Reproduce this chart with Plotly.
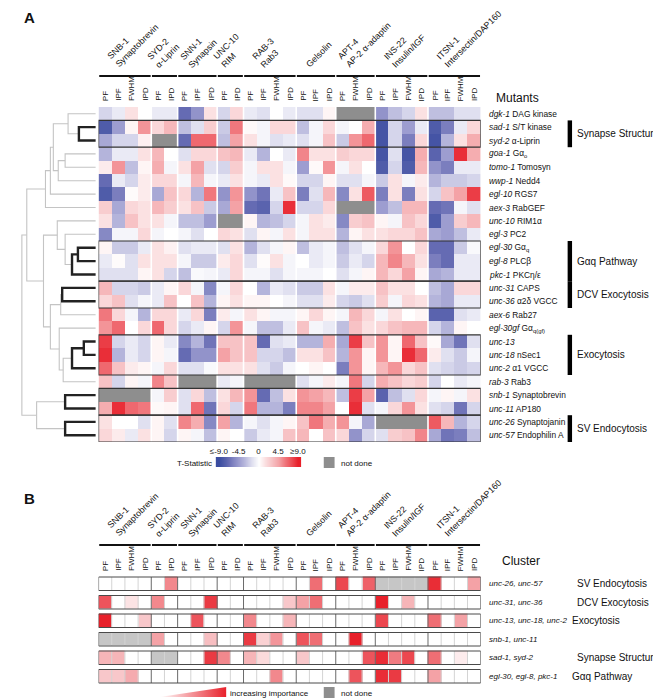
import math
import plotly.graph_objects as go

W, H = 661, 698
FONT = "Liberation Sans, Arial, Helvetica, sans-serif"
N = None

# ---------------- column structure (shared by panels A and B) ----------------
group_names = ["SNB-1<br>Synaptobrevin", "SYD-2<br>α-Liprin", "SNN-1<br>Synapsin",
               "UNC-10<br>RIM", "RAB-3<br>Rab3", "Gelsolin", "APT-4<br>AP-2 α-adaptin",
               "INS-22<br>Insulin/IGF", "ITSN-1<br>Intersectin/DAP160"]
group_cols = [["PF", "IPF", "FWHM", "IPD"], ["PF", "IPD"], ["PF", "IPF", "IPD"], ["PF", "IPD"],
              ["PF", "IPF", "FWHM", "IPD"], ["PF", "IPF", "IPD"], ["PF", "FWHM", "IPD"],
              ["PF", "IPF", "FWHM", "IPD"], ["PF", "IPF", "FWHM", "IPD"]]
col_labels = [c for g in group_cols for c in g]

# ---------------- panel A: mutants x markers, T-statistic ----------------
mutant_genes = ["dgk-1", "sad-1", "syd-2", "goa-1", "tomo-1", "wwp-1", "egl-10", "aex-3",
                "unc-10", "egl-3", "egl-30", "egl-8", "pkc-1", "unc-31", "unc-36", "aex-6",
                "egl-30gf", "unc-13", "unc-18", "unc-2", "rab-3", "snb-1", "unc-11",
                "unc-26", "unc-57"]
mutant_proteins = ["DAG kinase", "S/T kinase", "α-Liprin", "Gα<sub>o</sub>", "Tomosyn", "Nedd4",
                   "RGS7", "RabGEF", "RIM1α", "PC2", "Gα<sub>q</sub>", "PLCβ", "PKCη/ε", "CAPS",
                   "α2δ VGCC", "Rab27", "Gα<sub>q(gf)</sub>", "", "nSec1", "α1 VGCC", "Rab3",
                   "Synaptobrevin", "AP180", "Synaptojanin", "Endophilin A"]

dgk_1 = [-2, -1, 1.5, 0, -1, -1, -7, -5, 1.5, -2, 2, -1, -1.5, 0, -1, -1.5, -1.5, 0.5, N, N, N, -5, -3, -2, 1.5, -3, -3, -1.5, -1.5]
sad_1 = [-8, -4.5, 0.5, 5, 2, 3.5, -3, -1.5, 2.5, -2.5, 6, 0.3, -0.5, 2, 2, -3, -0.5, 2, -0.5, 0, 4, -8.5, -2, -4.5, -1, -8, -6, -1, 2]
syd_2 = [-4, -2, -2, 0.8, N, N, -7, 6.5, 6.5, -3, 4.5, 1.5, -0.5, -1.5, -1, -1.5, -0.5, 3, -2.5, 5, 6.5, -8.5, -2, -6, 2, -8.5, -3.5, 1.5, 4]
goa_1 = [-3.5, -1, -1, 1.5, 3.5, 0, -1.5, 2, 2, 3, 3.5, -1, -3.5, 0, -1, 5.5, 1.5, 1.5, 2.5, 2, 2, -8.5, -1.5, -8.5, 4, -7.5, -4.5, 8.5, 4]
tomo_1 = [1, 5, -3, 0.5, 4, -0.5, 1.5, 4.5, -1.5, -2, 2.5, -0.5, 1.5, 1.5, -0.5, -4.5, 0.3, 5, -0.5, 1.5, 0, -8, -2, -8, 3.5, -5, -6, -1, -1]
wwp_1 = [-7, -1, -2, 1, 2, 2, -0.5, 3.5, -0.5, -1, 1.5, -0.5, -1, 1.5, 0.3, -2, -2, 0.5, -1.5, -1.5, -0.5, -2.5, 1.5, -0.5, 1, -3.5, -2.5, -2.5, -2]
egl_10 = [-8, -6, 0.2, 1, -4, 3, 2, -3.5, 6, -5, 5, -5, -6.5, -1, 3, -6, -1.5, 3.5, -5.5, 1.5, 7, -6, 1.5, -6, 1.5, -2, 3, 4.5, 8]
aex_3 = [2.5, -4, 2, 1.5, 3.5, 2.5, 1.5, 3, -2.5, -4, 4.5, -7, -7.5, -2, 8.5, -2, -2, 2, N, N, N, -4.5, -3, 3.5, 3.5, -7, -6.5, -0.5, -1.5]
unc_10 = [1.5, -3.5, 3, 1.5, 1.5, -0.5, -3, -3, -4.5, N, N, 0.5, -3.5, -3, -2, -0.5, 1.5, 1, -5.5, 2.5, 3, 0.5, -0.5, 3, 2, -8, -4.5, 2.5, 3.5]
egl_3 = [-5.5, -0.5, -0.5, 2, -0.5, 0, -0.5, -1.5, 0, 2, 1.5, -1.5, 0.5, -0.5, 1.5, -0.5, 1.5, 1.5, -3.5, 0.5, 1.5, 1.5, 2, 2, 3, -4, -4.5, -3, -1]
egl_30 = [0.5, -2.5, -2.5, -1, 1.5, 0.7, -1.5, -1, -1, -1.5, 1.5, -3.5, -1.5, -0.5, 0.5, -3, -1, -0.5, -3, -1.5, -0.5, 2, 5, 0, 2, -7, -7, -2.5, -0.3]
egl_8 = [-1, 0.2, -1.5, 1.5, 1.5, 1.5, -0.5, -2.5, -2.5, 1, 2, -1.5, 0.2, 1.5, -0.5, 0, -1, -0.5, -2.5, -1, -2, 3.5, 5.5, 3.5, 1.5, -6, -7, -1, -1]
pkc_1 = [-1.5, -1.5, -1.5, 0.5, 1.5, -2, -3, -0.3, -0.5, -1, 2, -0.5, -0.5, -1.5, -0.5, -0.5, -0.5, 0, -1.5, -0.5, 0.5, 3.5, 2, 4.5, 0.5, -4, -3.5, -1, -1]
unc_31 = [3.5, -2, -2, -2.5, -1, 0.5, 2, -0.5, -5.5, -0.5, 2, 0, -3.5, -1, -1.5, -2.5, -2.5, 1.5, -0.5, 1, 1, 3, 1.5, 1.5, 0, -3, -4, 2, 2]
unc_36 = [2, 3, -1.5, -0.5, -1, 3, 0, 3, -3.5, 0.5, 1.5, 0.5, 0.5, 0, -0.5, -1.5, -1.5, 1, -2, -2.5, -1.5, 2.5, -0.5, 2, 1.5, -3.5, -4, -1, -1]
aex_6 = [6, 2, -0.5, -3.5, 2, 2, -1, 2, -6, 1, -0.5, 1.5, 0.5, -0.5, -0.5, 0.5, 2, 0.5, -0.5, 3.5, 2, -0.5, 1.5, 0, 0.5, -7.5, -7.5, -1.5, -1]
egl_30gf = [5, 6.5, 0, 2, 6.5, 2, -2, -1, 0.5, -2, 5, -0.5, -3, -3, -1, 3, -0.5, -1, -3, 3, 1.5, 2, 3, 3.5, 3.5, -2, -3.5, 0.5, 0]
unc_13 = [8, -2, -1, -2, 0.5, -1, -5.5, -3.5, -6.5, 3, 3, 3, -7, -1.5, -1, -3.5, -3.5, 4, -4, 8, 3, 5, 0.5, 6.5, 3, 0.3, -4, -6.5, -1.5]
unc_18 = [8.5, -3.5, -1, -2, 0.5, -0.5, -7, -5, -5, 4.5, 3, 3, -2, -2, -3, 1.5, 1.5, 3, -3.5, 5, 0.5, 5, 0.5, 8.5, 6.5, 1, -1.5, -2.5, -0.5]
unc_2 = [6.5, 3, 1, 0.5, -0.5, 2, -1.5, -1.5, -0.3, 1.5, 1.5, 1.5, -1.5, -2.5, -0.5, 0, 0.5, 0, -6, 5, 0.5, 3.5, 5, 2, 3, -1.5, -2, -2.5, -2]
rab_3 = [3, -2, 0.5, -0.5, 5.5, 3, N, N, N, -1, -0.5, N, N, N, N, -1.5, -0.5, 1, -0.5, 6, -2, 4, 3, 2, 2.5, -2, 0, -1, -0.5]
snb_1 = [N, N, N, N, -0.5, 2.5, -1.5, 2, -3, 1.5, 3.5, 5, -7, -3, 1.5, 5, 4.5, 3.5, -3, 8, 4.5, -7.5, -3, -1.5, 2, -0.5, 0.5, -0.5, 1.5]
unc_11 = [4, 8.5, 6.5, 6, 0.3, 0.5, -1.5, 6.5, -6.5, 2, -2, 6, -3.5, -3.5, -6, 5.5, 5.5, 4.5, 0, 8.5, -1.5, -0.5, 2, 5, 1.5, -1.5, -2, -6.5, -2]
unc_26 = [1.5, 0, 0, -1.5, 0.5, -1.5, 5.5, 4, -5.5, 4.5, -3.5, -0.5, -1.5, -0.5, 0.5, 3, 6, 4, 5, -0.5, -4, N, N, N, N, 7, 3.5, -3.5, -2]
unc_57 = [2, 1, -1, 1.5, 0.5, -2, 0.5, -0.5, -3, 0.5, 0, -2.5, -1, -0.5, 3, 3.5, 0, 3, 2, -5, -2, -1.5, 2.5, 3, 5.5, -4, -6.5, -6, -3]

# clusters outlined in A (first row, last row) and the category bars at right
a_boxes = [(1, 2), (10, 12), (13, 14), (17, 19), (21, 22), (23, 24)]
a_categories = [("Synapse Structure", 1, 2), ("Gαq Pathway", 10, 12), ("DCV Exocytosis", 13, 14),
                ("Exocytosis", 17, 19), ("SV Endocytosis", 23, 24)]

# dendrogram merges: (child a, child b, merge height, highlighted); leaves 0..24, new nodes 25..
leaf_height = 3
merges = [
    (1, 2, 20, True),      # 25 sad-1 / syd-2
    (0, 25, 31, False),    # 26
    (3, 4, 34, False),     # 27 goa-1 / tomo-1
    (27, 5, 41, False),    # 28 + wwp-1
    (26, 28, 46, False),   # 29
    (29, 6, 49, False),    # 30 + egl-10
    (30, 7, 54, False),    # 31 + aex-3
    (10, 11, 21, True),    # 32 egl-30 / egl-8
    (32, 12, 27, True),    # 33 + pkc-1
    (9, 33, 34, False),    # 34 + egl-3
    (8, 34, 42, False),    # 35 + unc-10
    (13, 14, 37, True),    # 36 unc-31 / unc-36
    (36, 15, 38.5, False), # 37 + aex-6
    (17, 18, 15, True),    # 38 unc-13 / unc-18
    (38, 19, 27, True),    # 39 + unc-2
    (39, 20, 36, False),   # 40 + rab-3
    (16, 40, 40, False),   # 41 + egl-30gf
    (37, 41, 49, False),   # 42
    (35, 42, 56, False),   # 43
    (31, 43, 73, False),   # 44
    (21, 22, 34, True),    # 45 snb-1 / unc-11
    (23, 24, 34, True),    # 46 unc-26 / unc-57
    (45, 46, 63, False),   # 47
    (44, 47, 78, False),   # 48 root
]

# ---------------- panel B: clusters x markers, importance ----------------
cluster_members = ["unc-26, unc-57", "unc-31, unc-36", "unc-13, unc-18, unc-2", "snb-1, unc-11",
                   "sad-1, syd-2", "egl-30, egl-8, pkc-1"]
cluster_names = ["SV Endocytosis", "DCV Exocytosis", "Exocytosis", "", "Synapse Structure", "Gαq Pathway"]
imp_sv_endo = [0, 0, 0, 0, 0, 0.6, 0, 0, 0, 0, 0, 0, 0, 0, 0, 0, 0.7, 0, 0.85, 0, 0.75, N, N, N, N, 0.95, 0, 0, 0.5]
imp_dcv = [0.8, 0, 0.15, 0, 0.6, 0, 0, 0, 0.9, 0, 0, 0, 0, 0, 0.3, 0.5, 0.7, 0, 0, 0, 0, 1.0, 0, 0.4, 0, 0, 0, 0, 0]
imp_exo = [1.0, 0, 0, 0.3, 0, 0, 0, 0.8, 0, 0, 0, 0.6, 0, 0, 0.4, 0, 0, 0, 0, 0, 0, 0.85, 0, 0, 0, 0.7, 0, 0.5, 0]
imp_snb = [N, N, N, N, 0.5, 0, 0, 0, 0.35, 0, 0, 0.9, 0.25, 0.55, 0, 0.8, 0.7, 0, 0, 1.0, 0, 0, 0, 0, 0, 0, 0, 0, 0]
imp_syn = [0.4, 0.4, 0, 0, N, N, 0, 0, 0.9, 0.6, 0, 0.4, 0.2, 0, 0, 0.3, 0, 0, 0, 0, 0.8, 0.95, 0.65, 0.85, 0, 0.7, 0, 0.1, 0]
imp_gaq = [0.3, 0.3, 0.45, 0, 0, 0, 0, 0, 0, 0, 0, 0, 0, 0.6, 0, 0, 0, 0, 0, 0.8, 0, 0.95, 0.9, 0, 0, 0.5, 0, 0, 0]

tstat_legend_vals = [-9, -7.5, -6, -4.5, -3, -1.5, 0, 1.5, 3, 4.5, 6, 7.5, 9]
tstat_legend_ticks = [-9, -4.5, 0, 4.5, 9]
tstat_legend_text = ["≤-9.0", "-4.5", "0", "4.5", "≥9.0"]

# ---------------- geometry (pixels) ----------------
HX0, HX1 = 86, 474.6
AY0, AY1 = 99, 434
BY0, BY1 = 566.5, 677.5
DX1 = 86
LAB_X = 480.5
CAT_X = 571


def px(x):
    return x / W


def py(y):
    return 1 - y / H


tscale = [[0.0, "#3a4ca0"], [0.125, "#6a6fb5"], [0.25, "#9d9dd0"], [0.375, "#d0d0e8"],
          [0.5, "#ffffff"], [0.625, "#f9d2d4"], [0.75, "#f4a2a6"], [0.875, "#ee6168"], [1.0, "#e8202a"]]
iscale = [[0.0, "#ffffff"], [0.5, "#f4a2a6"], [1.0, "#e8202a"]]

zA = [dgk_1, sad_1, syd_2, goa_1, tomo_1, wwp_1, egl_10, aex_3, unc_10, egl_3, egl_30, egl_8,
      pkc_1, unc_31, unc_36, aex_6, egl_30gf, unc_13, unc_18, unc_2, rab_3, snb_1, unc_11,
      unc_26, unc_57]
zB = [imp_sv_endo, imp_dcv, imp_exo, imp_snb, imp_syn, imp_gaq]
ncol = len(col_labels)
xs = list(range(ncol))

fig = go.Figure()

# not-done masks + data heatmaps
fig.add_trace(go.Heatmap(z=[[1 if v is None else None for v in r] for r in zA], x=xs,
                         y=list(range(len(zA))), colorscale=[[0, "#8e8e8e"], [1, "#8e8e8e"]],
                         showscale=False, hoverinfo="skip", xaxis="x", yaxis="y"))
fig.add_trace(go.Heatmap(z=zA, x=xs, y=list(range(len(zA))), zmin=-9, zmax=9, colorscale=tscale,
                         showscale=False, hoverinfo="skip", xaxis="x", yaxis="y"))
fig.add_trace(go.Heatmap(z=[[1 if v is None else None for v in r] for r in zB], x=xs,
                         y=list(range(len(zB))), colorscale=[[0, "#c6c6c6"], [1, "#c6c6c6"]],
                         showscale=False, hoverinfo="skip", ygap=5, xaxis="x2", yaxis="y2"))
fig.add_trace(go.Heatmap(z=zB, x=xs, y=list(range(len(zB))), zmin=0, zmax=1, colorscale=iscale,
                         showscale=False, hoverinfo="skip", ygap=5, xaxis="x2", yaxis="y2"))

# dendrogram
pos = {i: (float(i), leaf_height) for i in range(len(mutant_genes))}
segs = {True: ([], []), False: ([], [])}
for k, (a, b, h, hi) in enumerate(merges):
    ya, ha = pos[a]
    yb, hb = pos[b]
    X, Y = segs[hi]
    X += [ha, h, h, hb, None]
    Y += [ya, ya, yb, yb, None]
    pos[len(mutant_genes) + k] = ((ya + yb) / 2, h)
for hi in (False, True):
    X, Y = segs[hi]
    fig.add_trace(go.Scatter(x=X, y=Y, mode="lines", xaxis="x3", yaxis="y",
                             line=dict(color="#222222" if hi else "#c4c4c4", width=2.4 if hi else 1.1),
                             hoverinfo="skip", showlegend=False))

# T-statistic legend bar
fig.add_trace(go.Heatmap(z=[tstat_legend_vals], x=tstat_legend_vals, y=[0], zmin=-9, zmax=9,
                         colorscale=tscale, zsmooth="best", showscale=False, hoverinfo="skip",
                         xaxis="x4", yaxis="y4"))

# importance legend wedge
fig.add_trace(go.Scatter(x=[0, 1, 1, 0], y=[0, 0, 1, 0], mode="lines", fill="toself",
                         fillgradient=dict(type="horizontal", colorscale=[[0, "#ffffff"], [1, "#e8202a"]]),
                         line=dict(width=0), xaxis="x5", yaxis="y5", hoverinfo="skip", showlegend=False))

hidden = dict(visible=False, showgrid=False, zeroline=False, fixedrange=True)
fig.update_layout(
    width=W, height=H, margin=dict(l=0, r=0, t=0, b=0),
    paper_bgcolor="white", plot_bgcolor="rgba(0,0,0,0)", showlegend=False,
    font=dict(family=FONT, size=9, color="#111111"),
    xaxis=dict(domain=[px(HX0), px(HX1)], range=[-0.5, ncol - 0.5], anchor="y", **hidden),
    yaxis=dict(domain=[py(AY1), py(AY0)], range=[len(zA) - 0.5, -0.5], anchor="x", **hidden),
    xaxis2=dict(domain=[px(HX0), px(HX1)], range=[-0.5, ncol - 0.5], anchor="y2", **hidden),
    yaxis2=dict(domain=[py(BY1), py(BY0)], range=[len(zB) - 0.5, -0.5], anchor="x2", **hidden),
    xaxis3=dict(domain=[0, px(DX1)], range=[DX1, 0], anchor="y", **hidden),
    xaxis4=dict(domain=[px(205), px(292)], range=[-9.75, 9.75], anchor="y4", side="top",
                tickvals=tstat_legend_ticks, ticktext=tstat_legend_text, ticks="",
                showticklabels=True, showgrid=False, zeroline=False, showline=False,
                tickfont=dict(size=8, family=FONT, color="#111"), ticklabelstandoff=0, fixedrange=True),
    yaxis4=dict(domain=[py(459), py(449)], range=[-0.5, 0.5], anchor="x4", **hidden),
    xaxis5=dict(domain=[px(148), px(216)], range=[0, 1], anchor="y5", **hidden),
    yaxis5=dict(domain=[py(689), py(679)], range=[0, 1], anchor="x5", **hidden),
)

shapes = []
ann = []

# group boundaries
bounds = []
acc = 0
for g in group_cols:
    bounds.append((acc, acc + len(g) - 1))
    acc += len(g)

for (s, e) in bounds[:-1]:
    shapes.append(dict(type="line", xref="x", yref="y", x0=e + 0.5, x1=e + 0.5, y0=-0.5,
                       y1=len(zA) - 0.5, line=dict(color="white", width=1.6)))

# panel B cell grid
for r in range(len(zB)):
    y0, y1 = r - 0.5 + 2.5 / 18.5, r + 0.5 - 2.5 / 18.5
    for c in range(1, ncol):
        is_group = any(c == s for (s, e) in bounds)
        shapes.append(dict(type="line", xref="x2", yref="y2", x0=c - 0.5, x1=c - 0.5, y0=y0, y1=y1,
                           line=dict(color="#6a6a6a" if is_group else "#d4d4d4", width=1)))
    shapes.append(dict(type="rect", xref="x2", yref="y2", x0=-0.5, x1=ncol - 0.5, y0=y0, y1=y1,
                       line=dict(color="#4a4a4a", width=1)))

# cluster boxes in A
for (r0, r1) in a_boxes:
    shapes.append(dict(type="rect", xref="x", yref="y", x0=-0.5, x1=ncol - 0.5, y0=r0 - 0.5,
                       y1=r1 + 0.5, line=dict(color="#333333", width=1.2)))

# header lines, header text, column labels (both panels)
for line_y, lab_y, head_y in [(68, 95, 64), (537, 565, 533)]:
    for gi, (s, e) in enumerate(bounds):
        shapes.append(dict(type="line", xref="x", yref="paper", x0=s - 0.45, x1=e + 0.45,
                           y0=py(line_y), y1=py(line_y), line=dict(color="#111", width=2)))
        cx = HX0 + 13.4 * ((s + e) / 2 + 0.5)
        nlines = group_names[gi].count("<br>") + 1
        hbox = nlines * 11.4 + 2
        ann.append(dict(x=px(cx - 5 - hbox / math.sqrt(2)), y=py(head_y), xref="paper", yref="paper",
                        text=group_names[gi], textangle=-45, showarrow=False, align="left",
                        xanchor="left", yanchor="bottom", font=dict(size=8.8)))
    for c, lab in enumerate(col_labels):
        ann.append(dict(x=c, y=py(lab_y), xref="x", yref="paper", text=lab, textangle=-90,
                        showarrow=False, xanchor="center", yanchor="bottom", font=dict(size=8)))

# row labels A
for i, (g, p) in enumerate(zip(mutant_genes, mutant_proteins)):
    txt = f"<i>{g}</i>" + (f" {p}" if p else "")
    ann.append(dict(x=px(LAB_X), y=i, xref="paper", yref="y", text=txt, showarrow=False,
                    xanchor="left", yanchor="middle", font=dict(size=8.4)))

for (name, r0, r1) in a_categories:
    shapes.append(dict(type="rect", xref="paper", yref="y", x0=px(563), x1=px(567.5),
                       y0=r0 - 0.5, y1=r1 + 0.5, fillcolor="black", line=dict(width=0)))
    ann.append(dict(x=px(CAT_X), y=(r0 + r1) / 2, xref="paper", yref="y", text=name, showarrow=False,
                    xanchor="left", yanchor="middle", font=dict(size=10)))

# row labels B
for i, (m, n) in enumerate(zip(cluster_members, cluster_names)):
    ann.append(dict(x=px(LAB_X + 1), y=i, xref="paper", yref="y2", text=f"<i>{m}</i>", showarrow=False,
                    xanchor="left", yanchor="middle", font=dict(size=8)))
    if n:
        cx_lab = CAT_X if len(m) < 18 else 565
        ann.append(dict(x=px(cx_lab), y=i, xref="paper", yref="y2", text=n, showarrow=False,
                        xanchor="left", yanchor="middle", font=dict(size=10)))

ann += [
    dict(x=px(8), y=py(10), text="<b>A</b>", font=dict(size=15)),
    dict(x=px(8), y=py(490), text="<b>B</b>", font=dict(size=15)),
    dict(x=px(488), y=py(90), text="Mutants", font=dict(size=12)),
    dict(x=px(494), y=py(553), text="Cluster", font=dict(size=12)),
    dict(x=px(164), y=py(455), text="T-Statistic", font=dict(size=8)),
    dict(x=px(330), y=py(455), text="not done", font=dict(size=8)),
    dict(x=px(218), y=py(685), text="increasing importance", font=dict(size=8)),
    dict(x=px(330), y=py(685), text="not done", font=dict(size=8)),
]
for a in ann[-8:]:
    a.update(xref="paper", yref="paper", showarrow=False, xanchor="left", yanchor="middle")

shapes.append(dict(type="rect", xref="paper", yref="paper", x0=px(315), x1=px(326), y0=py(460),
                   y1=py(449), fillcolor="#8e8e8e", line=dict(width=0)))
shapes.append(dict(type="rect", xref="paper", yref="paper", x0=px(315), x1=px(326), y0=py(690),
                   y1=py(679), fillcolor="#8e8e8e", line=dict(width=0)))

fig.update_layout(shapes=shapes, annotations=ann)
fig.write_html("out.html")
